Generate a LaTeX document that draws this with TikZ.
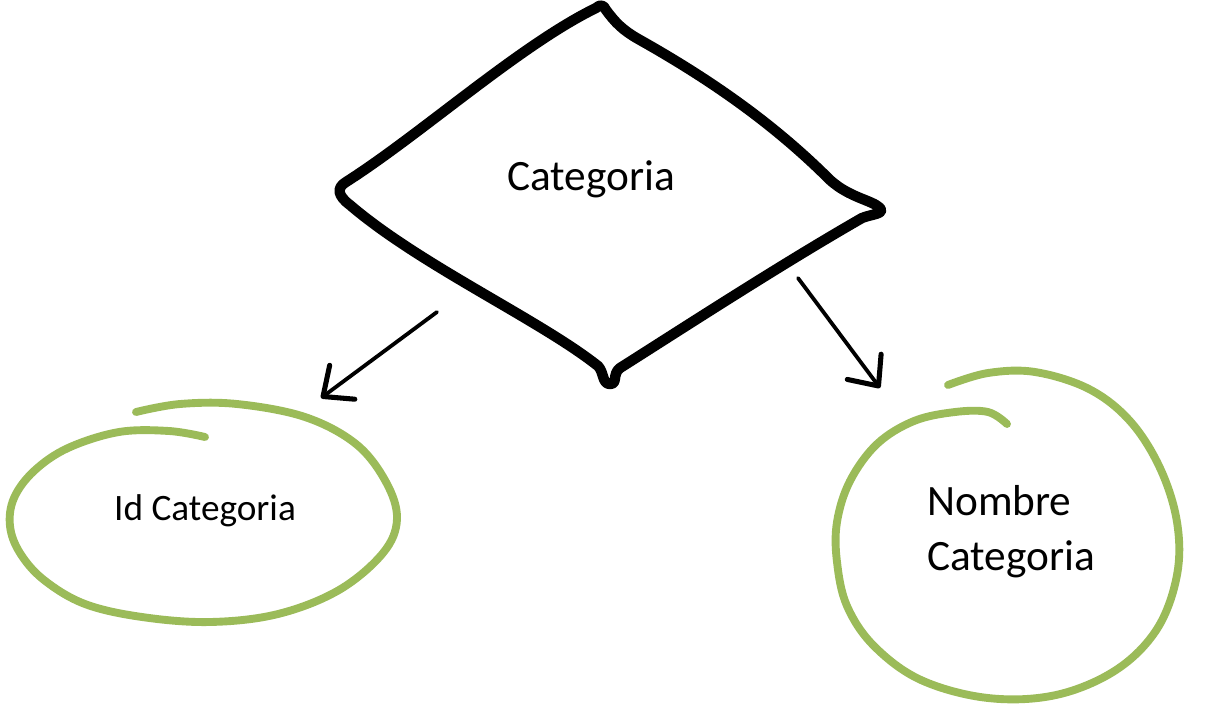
\documentclass[tikz,border=0pt]{standalone}
\usepackage{fontspec}
\setmainfont{Carlito}
\usepackage{xcolor}
\usetikzlibrary{arrows.meta,positioning}
\definecolor{attrgreen}{RGB}{155,187,89}

\begin{document}
\begin{tikzpicture}
			[x=0.025cm, y=-0.025cm,
			% STYLES
			% The entity style is used for the hand drawn diamond outline
			entity/.style={draw=black, line width=7.4pt, line join=round, line cap=round},
			% The attr style is used for the green hand drawn rings
			attr/.style={draw=attrgreen, line width=5.6pt, line cap=round},
			% The label styles are used for the texts
			entitylabel/.style={font=\fontsize{30.8pt}{38.5pt}\selectfont, inner sep=0pt},
			attrlabel/.style={font=\fontsize{26.5pt}{32pt}\selectfont, inner sep=0pt},
			% The link style is used for the arrows
			link/.style={line width=2.7pt, line cap=round, -{Straight Barb[length=17pt, width=30pt, line width=3.6pt, round]}}]
			\useasboundingbox (0,0) rectangle (1211,713);
			% Draw entity
			\node [entitylabel, anchor=base] (categoria) at (591,190) {Categoria};
			\draw [entity] (346,182) .. controls (420,135) and (520,45) .. (596,8)
				.. controls (600,4) and (604,5) .. (606,10)
				.. controls (615,22) and (622,30) .. (640,40)
				.. controls (720,85) and (780,130) .. (830,180)
				.. controls (850,198) and (872,200) .. (880,208)
				.. controls (885,214) and (872,214) .. (862,218)
				.. controls (780,265) and (680,330) .. (620,368)
				.. controls (612,374) and (618,384) .. (610,384)
				.. controls (602,384) and (604,372) .. (598,366)
				.. controls (540,320) and (420,265) .. (350,205)
				.. controls (338,196) and (336,188) .. cycle;
			%%%%%%%%%%%%%%%
			% Draw attributes
			% id
			\node [attrlabel, anchor=base] (idcat) at (205,520) {Id Categoria};
			\draw [attr] plot [smooth, tension=0.6] coordinates {(205,437) (169,431) (119,432) (68,448) (34,471) (14,498) (10,526) (20,553) (44,580) (85,604) (142,617) (210,622) (278,614) (339,590) (383,553) (397,519) (386,482) (356,444) (305,417) (237,404) (180,404) (136,412)};
			% nombre
			\node [entitylabel, align=left, anchor=base west] (nombrecat) at (927,570) {Nombre\\Categoria};
			\draw [attr] plot [smooth, tension=0.6] coordinates {(1007,424) (988,412) (955,412) (914,421) (877,444) (850,481) (837,522) (837,562) (847,606) (874,646) (921,680) (988,698) (1056,695) (1116,670) (1157,629) (1177,575) (1177,522) (1160,468) (1130,421) (1089,389) (1035,372) (988,373) (948,385)};
			%%%%%%%%%%%%%%%%
			% Draw the links
			\coordinate (idcat-in) at (321,398);
			\coordinate (cat-left) at (437,312);
			\coordinate (cat-right) at (798,278);
			\coordinate (nombrecat-in) at (880,388);
			\path [link]
			(cat-left) edge (idcat-in)
			(cat-right) edge (nombrecat-in);
			\end{tikzpicture}
\end{document}
